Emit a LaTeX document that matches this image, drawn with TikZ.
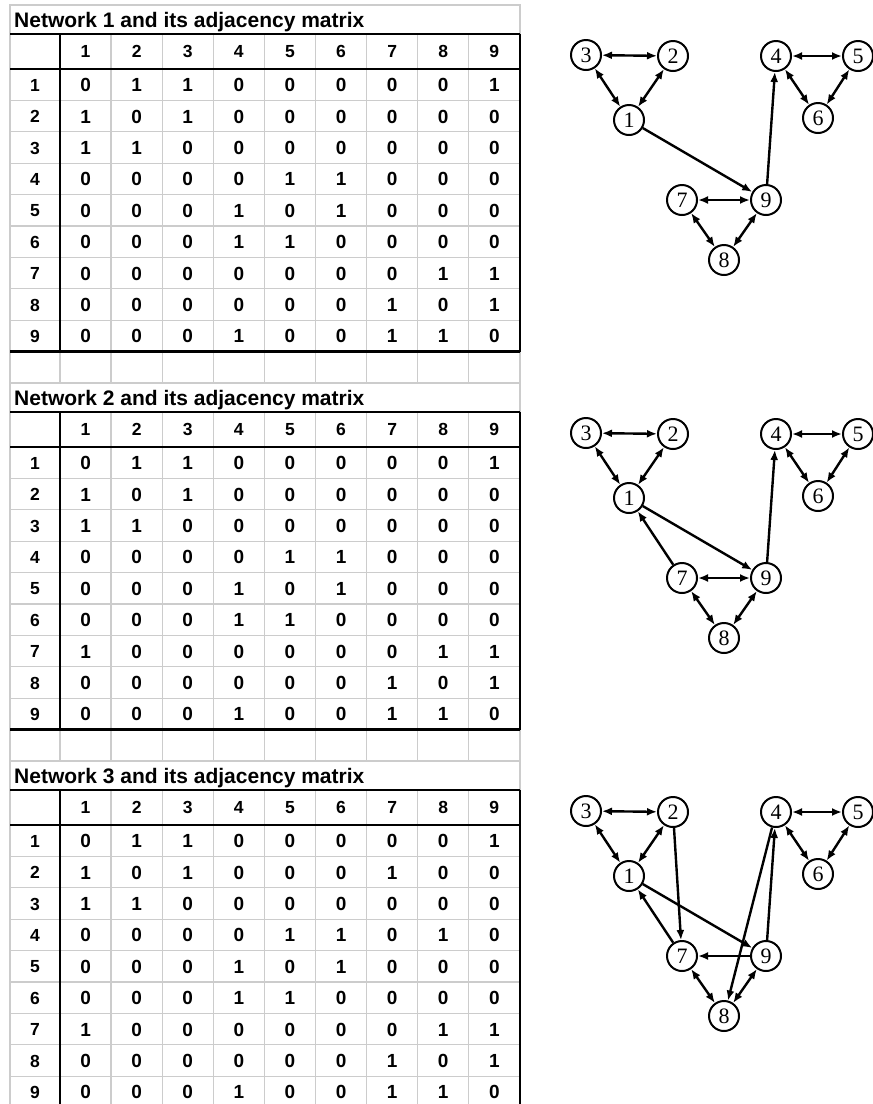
\documentclass[tikz,border=0pt]{standalone}
\usepackage{fontspec}
\setmainfont{Liberation Sans}
\newfontfamily\vertfont{Liberation Serif}
\usetikzlibrary{arrows.meta}

\tikzset{
  gridline/.style={draw=gray!40,line width=1.3pt},
  thickrule/.style={draw=black,line width=2.8pt},
  nettitle/.style={anchor=base west,inner sep=0pt,font=\bfseries\fontsize{21}{21}\selectfont},
  headnum/.style={anchor=base,inner sep=0pt,font=\bfseries\fontsize{17.5}{17.5}\selectfont},
  cellnum/.style={anchor=base,inner sep=0pt,font=\bfseries\fontsize{19}{19}\selectfont},
  vertex/.style={circle,draw,line width=2pt,fill=white,minimum size=30pt,inner sep=0pt,font=\vertfont\fontsize{22}{22}\selectfont},
  twoway/.style={line width=2.4pt,{Latex[length=10pt,width=8pt]}-{Latex[length=10pt,width=8pt]}},
  oneway/.style={line width=2.4pt,-{Latex[length=10pt,width=8pt]}}
}

% adjacency matrices, one row per brace group
\def\netA{{0,1,1,0,0,0,0,0,1},{1,0,1,0,0,0,0,0,0},{1,1,0,0,0,0,0,0,0},
  {0,0,0,0,1,1,0,0,0},{0,0,0,1,0,1,0,0,0},{0,0,0,1,1,0,0,0,0},
  {0,0,0,0,0,0,0,1,1},{0,0,0,0,0,0,1,0,1},{0,0,0,1,0,0,1,1,0}}
\def\netB{{0,1,1,0,0,0,0,0,1},{1,0,1,0,0,0,0,0,0},{1,1,0,0,0,0,0,0,0},
  {0,0,0,0,1,1,0,0,0},{0,0,0,1,0,1,0,0,0},{0,0,0,1,1,0,0,0,0},
  {1,0,0,0,0,0,0,1,1},{0,0,0,0,0,0,1,0,1},{0,0,0,1,0,0,1,1,0}}
\def\netC{{0,1,1,0,0,0,0,0,1},{1,0,1,0,0,0,1,0,0},{1,1,0,0,0,0,0,0,0},
  {0,0,0,0,1,1,0,1,0},{0,0,0,1,0,1,0,0,0},{0,0,0,1,1,0,0,0,0},
  {1,0,0,0,0,0,0,1,1},{0,0,0,0,0,0,1,0,1},{0,0,0,1,0,0,1,1,0}}

\begin{document}
\begin{tikzpicture}[x=1pt,y=-1pt]
\useasboundingbox (0,0) rectangle (873,1104);

% tables
\foreach \n/\mat [evaluate=\n as \ty using {5+(\n-1)*378},
                  evaluate=\n as \tb using {5+(\n-1)*378+64+9*31.4}] in {1/\netA,2/\netB,3/\netC} {
  \edef\curmat{\mat}
  % light grid
  \draw[gridline] (10,\ty) rectangle (520,\ty+29);
  \draw[gridline] (10,\ty) -- (10,\tb+31.4);
  \draw[gridline] (520,\tb) -- (520,\tb+31.4) -- (10,\tb+31.4);
  \draw[gridline] (60,\tb) -- (60,\tb+31.4);
  \foreach \k in {1,...,8}
    \draw[gridline] ({60+\k*51.1},\ty+29) -- ({60+\k*51.1},\tb+31.4);
  \foreach \r in {1,...,8}
    \draw[gridline] (10,{\ty+64+\r*31.4}) -- (520,{\ty+64+\r*31.4});
  % heavy rules
  \draw[thickrule] (10,\ty+29) -- (520,\ty+29);
  \draw[thickrule] (10,\ty+64) -- (520,\ty+64);
  \draw[thickrule] (10,\tb) -- (520,\tb);
  \draw[thickrule] (60,\ty+29) -- (60,\tb);
  \draw[thickrule] (520,\ty+29) -- (520,\tb);
  % texts
  \node[nettitle] (t\n-title) at (14,\ty+22) {Network \n{} and its adjacency matrix};
  \foreach \c in {1,...,9}
    \node[headnum] (t\n-c\c) at ({60+(\c-0.5)*51.1},\ty+52.5) {\c};
  \foreach \row [count=\r] in \curmat {
    \node[headnum] (t\n-r\r) at (35,{\ty+64+(\r-0.5)*31.4+6.5}) {\r};
    \foreach \v [count=\c] in \row
      \node[cellnum] (t\n-\r-\c) at ({60+(\c-0.5)*51.1},{\ty+64+(\r-0.5)*31.4+7}) {\v};
  }
}

% graphs
\foreach \n [evaluate=\n as \gy using {(\n-1)*378}] in {1,2,3}
  \foreach \k/\px/\py in {1/629/120,2/673/56,3/586/55,4/776/56,5/858/56,6/818/118,7/682/200,8/724/260,9/766/200}
    \node[vertex] (g\n-\k) at (\px,{\py+\gy}) {\k};

% network 1
\foreach \a/\b in {1/2,1/3,2/3,4/5,4/6,5/6,7/8,7/9,8/9}
  \draw[twoway] (g1-\a) -- (g1-\b);
\foreach \a/\b in {1/9,9/4}
  \draw[oneway] (g1-\a) -- (g1-\b);

% network 2
\foreach \a/\b in {1/2,1/3,2/3,4/5,4/6,5/6,7/8,7/9,8/9}
  \draw[twoway] (g2-\a) -- (g2-\b);
\foreach \a/\b in {1/9,9/4,7/1}
  \draw[oneway] (g2-\a) -- (g2-\b);

% network 3
\foreach \a/\b in {1/2,1/3,2/3,4/5,4/6,5/6,7/8,8/9}
  \draw[twoway] (g3-\a) -- (g3-\b);
\foreach \a/\b in {1/9,9/4,7/1,2/7,4/8,9/7}
  \draw[oneway] (g3-\a) -- (g3-\b);
\end{tikzpicture}
\end{document}
